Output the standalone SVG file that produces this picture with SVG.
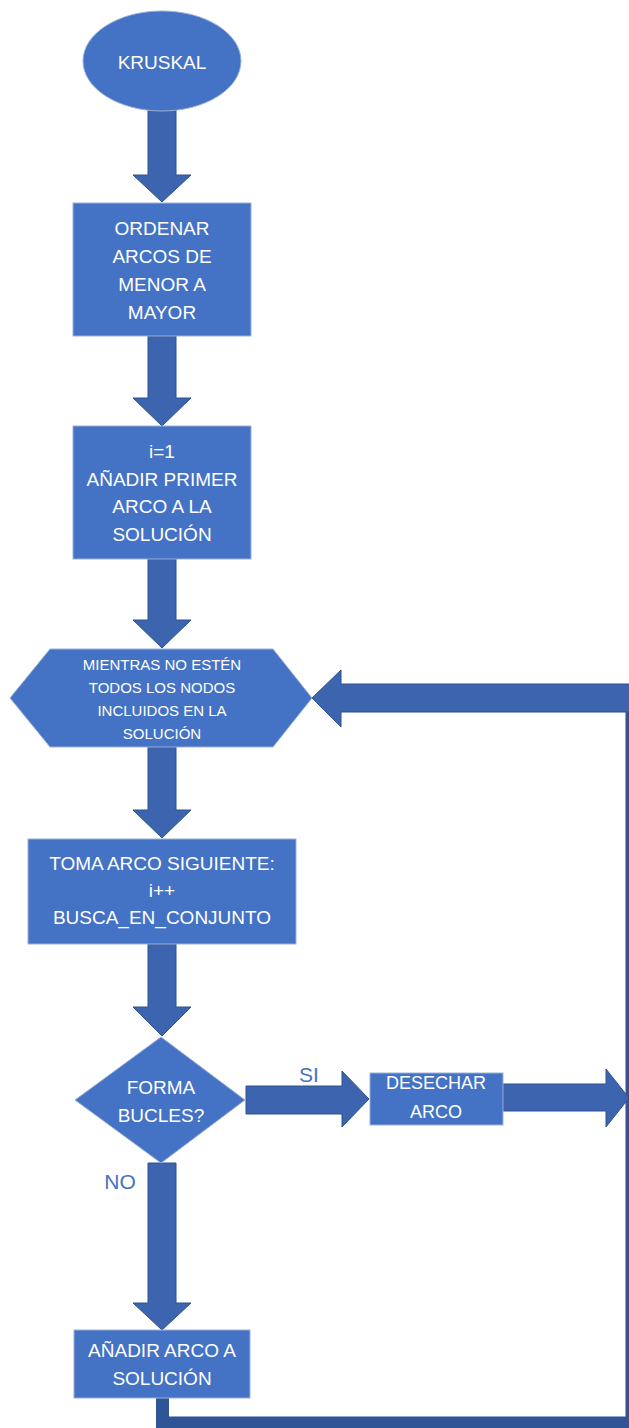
<svg xmlns="http://www.w3.org/2000/svg" width="629" height="1428" viewBox="0 0 629 1428">
<style>
.node{fill:#4472C4;stroke:#9DB1DA;stroke-width:1}
.arr{fill:#3D64AE;stroke:#2F528F;stroke-width:1}
.t{font-family:"Liberation Sans",Arial,sans-serif;font-size:19px;fill:#FFFFFF;text-anchor:middle}
.ts{font-size:15px}
.lbl{font-family:"Liberation Sans",Arial,sans-serif;font-size:21px;fill:#4472C4;text-anchor:middle}
</style>
<rect width="629" height="1428" fill="#FFFFFF"/>
<g id="connectors">
<path d="M162.5 1398 V1423 H632 V700" fill="none" stroke="#2F5597" stroke-width="13" stroke-linecap="round" stroke-linejoin="miter"/>
<polygon class="arr" points="148,110 176,110 176,175 191,175 162,202 133,175 148,175"/>
<polygon class="arr" points="148,336 176,336 176,398 191,398 162,426 133,398 148,398"/>
<polygon class="arr" points="148,559 176,559 176,620 191,620 162,648 133,620 148,620"/>
<polygon class="arr" points="148,747 176,747 176,810 191,810 162,838 133,810 148,810"/>
<polygon class="arr" points="148,944 176,944 176,1007 191,1007 162,1036 133,1007 148,1007"/>
<polygon class="arr" points="148,1163 176,1163 176,1303 191,1303 162,1330 133,1303 148,1303"/>
<polygon class="arr" points="632,684 341,684 341,670 312,698 341,727 341,712 632,712"/>
<polygon class="arr" points="246,1086 342,1086 342,1071 369,1099 342,1127 342,1114 246,1114"/>
<polygon class="arr" points="503,1084 606,1084 606,1069 629,1098 606,1127 606,1111 503,1111"/>
<text class="lbl" x="309" y="1082">SI</text>
<text class="lbl" x="120" y="1189">NO</text>
</g>
<g id="kruskal">
<ellipse class="node" cx="162" cy="61" rx="79" ry="50"/>
<text class="t" x="162" y="69">KRUSKAL</text>
</g>
<g id="ordenar">
<rect class="node" x="73" y="203" width="178" height="133"/>
<text class="t" x="162" y="235">ORDENAR</text>
<text class="t" x="162" y="263">ARCOS DE</text>
<text class="t" x="162" y="291">MENOR A</text>
<text class="t" x="162" y="319">MAYOR</text>
</g>
<g id="primer">
<rect class="node" x="73" y="426" width="178" height="133"/>
<text class="t" x="162" y="458">i=1</text>
<text class="t" x="162" y="486">AÑADIR PRIMER</text>
<text class="t" x="162" y="513">ARCO A LA</text>
<text class="t" x="162" y="541">SOLUCIÓN</text>
</g>
<g id="mientras">
<polygon class="node" points="10,698 50,649 273,649 312,698 273,747 50,747"/>
<text class="t ts" x="162" y="670">MIENTRAS NO ESTÉN</text>
<text class="t ts" x="162" y="693">TODOS LOS NODOS</text>
<text class="t ts" x="162" y="716">INCLUIDOS EN LA</text>
<text class="t ts" x="162" y="739">SOLUCIÓN</text>
</g>
<g id="toma">
<rect class="node" x="28" y="839" width="268" height="105"/>
<text class="t" x="162" y="870">TOMA ARCO SIGUIENTE:</text>
<text class="t" x="162" y="897">i++</text>
<text class="t" x="162" y="924">BUSCA_EN_CONJUNTO</text>
</g>
<g id="bucles">
<polygon class="node" points="161,1037 245,1100 161,1163 75,1100"/>
<text class="t" x="161" y="1094">FORMA</text>
<text class="t" x="161" y="1122">BUCLES?</text>
</g>
<g id="desechar">
<rect class="node" x="370" y="1073" width="133" height="52"/>
<text class="t" x="436" y="1089" style="font-size:18px">DESECHAR</text>
<text class="t" x="436" y="1118" style="font-size:18px">ARCO</text>
</g>
<g id="anadir">
<rect class="node" x="74" y="1330" width="176" height="68"/>
<text class="t" x="162" y="1357">AÑADIR ARCO A</text>
<text class="t" x="162" y="1385">SOLUCIÓN</text>
</g>
</svg>
